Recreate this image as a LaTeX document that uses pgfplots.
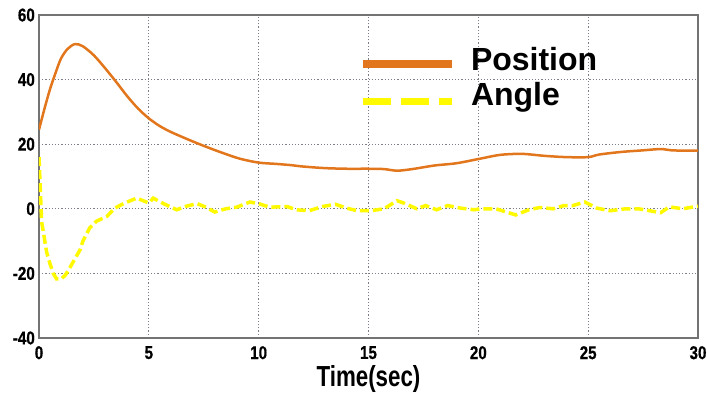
\documentclass[border=0pt]{standalone}
\usepackage{pgfplots}
\pgfplotsset{compat=1.18}
\usepackage{fontspec}
\setmainfont{Liberation Sans}
\newfontfamily\tickfont{Liberation Sans}[FakeStretch=0.82, FakeBold=0.6]
\newfontfamily\labfont{Liberation Sans}[FakeStretch=0.77]
\definecolor{posorange}{RGB}{226,118,28}
\definecolor{angyellow}{RGB}{255,250,0}
\definecolor{gridgray}{RGB}{125,125,135}
\definecolor{framegray}{RGB}{115,115,115}
\begin{document}
\begin{tikzpicture}
\begin{axis}[
  scale only axis,
  width=659pt, height=323pt,
  xmin=0, xmax=30, ymin=-40, ymax=60,
  xtick={0,5,...,30}, ytick={-40,-20,...,60},
  major tick length=0pt,
  grid=major,
  major grid style={gridgray, line width=0.8pt, dash pattern=on 1.2pt off 2pt},
  axis line style={framegray, line width=1.2pt},
  /pgf/number format/assume math mode=true,
  tick label style={font=\tickfont\bfseries\fontsize{18.5}{19}\selectfont, inner sep=0pt},
  xticklabel style={anchor=north, yshift=-8pt},
  yticklabel style={anchor=east, xshift=-4pt},
  xlabel={Time(sec)},
  xlabel style={font=\labfont\bfseries\fontsize{29}{30}\selectfont, inner sep=0pt, at={(axis description cs:0.5,0)}, anchor=north, yshift=-27pt},
  legend cell align=left,
  legend style={draw=none, fill=none, at={(axis description cs:0.4856,0.898)}, anchor=north west,
    font=\bfseries\fontsize{32}{34}\selectfont, inner sep=0pt, outer sep=0pt,
    nodes={inner sep=0pt, text height=23pt, text depth=6pt},
    row sep=6pt,
    /tikz/every odd column/.append style={column sep=15pt}},
]
\addlegendimage{legend image code/.code={\draw[posorange, line width=8pt] (0pt,-2pt) -- (89pt,-2pt);}}
\addlegendentry{Position}
\addlegendimage{legend image code/.code={\draw[angyellow, line width=7pt, dash pattern=on 28pt off 10pt] (0pt,-4pt) -- (89pt,-4pt);}}
\addlegendentry{Angle}

\addplot[posorange, line width=2.5pt, smooth, forget plot] coordinates {
(0,24.5)(0.25,31)(0.5,37)(0.75,42)(1,46.5)(1.3,49.5)(1.64,51)(2,50.3)(2.5,47.5)(3,43.6)(3.5,39.4)(4,35.0)(4.5,31.1)(5,28.0)(5.5,25.6)(6,23.8)(6.6,22.0)(7.2,20.3)(7.8,18.7)(8.4,17.2)(9.15,15.5)(10,14.3)(10.8,13.9)(11.5,13.5)(12,13.1)(13,12.6)(14,12.4)(15,12.4)(15.7,12.3)(16.3,11.8)(17,12.3)(18,13.4)(19,14.1)(20,15.4)(21,16.7)(22,17.0)(23,16.4)(24,16.0)(25,16.0)(25.5,16.8)(26.5,17.6)(27.5,18.1)(28.3,18.5)(28.8,18.1)(29.5,18.0)(30,18.0)
};
\addplot[angyellow, line width=3.5pt, dash pattern=on 9pt off 4pt, forget plot] coordinates {
(0,16)(0.12,-4)(0.35,-13.5)(0.5,-17)(0.65,-20)(0.8,-21.7)(1.0,-21.8)(1.2,-20.5)(1.4,-18.3)(1.87,-12.7)(2.0,-10)(2.3,-6)(2.6,-3.9)(3.1,-2.3)(3.45,0.2)(3.9,1.8)(4.45,3.3)(5.0,1.8)(5.2,3.3)(5.7,1.5)(6.27,-0.3)(6.7,0.8)(7.2,1.6)(7.6,0.5)(8.0,-1)(8.5,0)(9.0,0.5)(9.6,2.1)(10.0,1.6)(10.5,0.5)(11.3,0.7)(11.7,-0.3)(12.3,-0.6)(12.9,0.7)(13.5,1.4)(14.0,0.2)(14.5,-0.6)(15.1,-0.6)(15.7,0)(16.3,2.5)(16.6,1.8)(17.2,0)(17.6,1)(18.1,-0.3)(18.6,1)(19.2,0.2)(19.8,-0.3)(20.1,0)(20.8,0)(21.7,-1.9)(22.3,-0.3)(22.8,0.4)(23.4,0)(23.9,1.0)(24.3,1)(24.85,2.1)(25.4,0.2)(26,-0.6)(26.7,0)(27.3,0)(27.8,-0.6)(28.3,-1.2)(28.7,0.6)(29.3,0)(30,0.8)
};
\end{axis}
\pgfresetboundingbox
\path[use as bounding box] ([xshift=-39pt,yshift=-58pt]current axis.south west) rectangle ([xshift=9pt,yshift=15pt]current axis.north east);
\end{tikzpicture}
\end{document}
